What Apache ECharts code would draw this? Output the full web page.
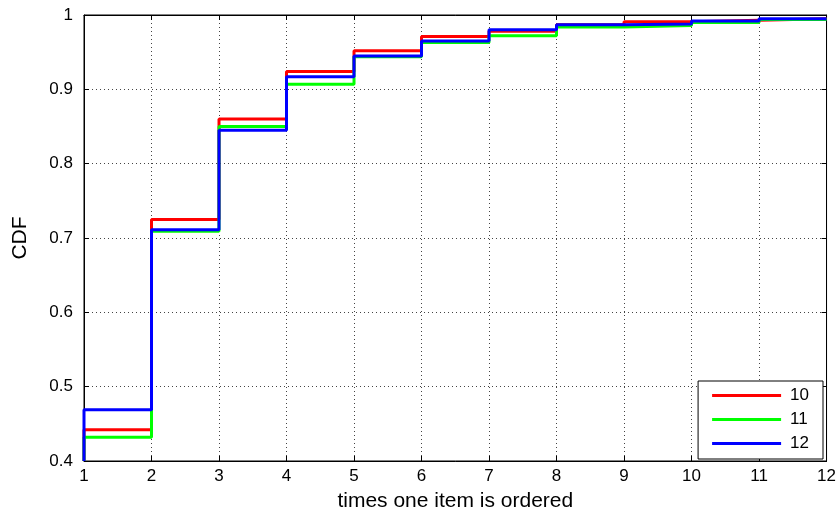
<!DOCTYPE html>
<html><head><meta charset="utf-8">
<script src="https://cdn.jsdelivr.net/npm/echarts@6/dist/echarts.min.js"></script>
<style>html,body{margin:0;padding:0;background:#fff}#c{width:839px;height:517px}</style>
</head><body><div id="c"></div>
<script>
const xValues = [1, 2, 3, 4, 5, 6, 7, 8, 9, 10, 11, 12];
const seriesNames = ['10', '11', '12'];
const cdf10 = [0.442, 0.725, 0.860, 0.924, 0.952, 0.971, 0.978, 0.987, 0.991, 0.993, 0.995];
const cdf11 = [0.432, 0.709, 0.850, 0.907, 0.944, 0.963, 0.972, 0.984, 0.986, 0.990, 0.994];
const cdf12 = [0.469, 0.711, 0.845, 0.917, 0.945, 0.965, 0.980, 0.987, 0.988, 0.992, 0.995];
const colors = ['#ff0000', '#00ff00', '#0000ff'];
const yMin = 0.4;

function stepData(vals) {
  const d = [[xValues[0], yMin]];
  vals.forEach((v, i) => d.push([xValues[i], v]));
  d.push([xValues[xValues.length - 1], vals[vals.length - 1]]);
  return d;
}

const chart = echarts.init(document.getElementById('c'));
const font = 'Liberation Sans, Arial, sans-serif';
const gridLine = {show: true, lineStyle: {color: '#444', type: [1, 3], width: 1}};
chart.setOption({
  animation: false,
  grid: {left: 84, right: 7, top: 15, bottom: 50, show: true, borderColor: '#000', borderWidth: 1},
  xAxis: [{
    type: 'value', min: 1, max: 12, interval: 1, position: 'bottom',
    name: 'times one item is ordered', nameLocation: 'middle', nameGap: 30,
    nameTextStyle: {fontFamily: font, fontSize: 21, color: '#000'},
    axisLine: {lineStyle: {color: '#000', width: 1}},
    axisTick: {inside: true, length: 5, lineStyle: {color: '#000'}},
    axisLabel: {fontFamily: font, fontSize: 17, color: '#000', margin: 7},
    splitLine: gridLine
  }, {
    type: 'value', min: 1, max: 12, interval: 1, position: 'top',
    axisLine: {lineStyle: {color: '#000'}},
    axisTick: {inside: true, length: 5, lineStyle: {color: '#000'}},
    axisLabel: {show: false}, splitLine: {show: false}
  }],
  yAxis: [{
    type: 'value', min: 0.4, max: 1, interval: 0.1, position: 'left',
    name: 'CDF', nameLocation: 'middle', nameGap: 53,
    nameTextStyle: {fontFamily: font, fontSize: 21, color: '#000'},
    axisLine: {show: true, lineStyle: {color: '#000', width: 1}},
    axisTick: {show: true, inside: true, length: 5, lineStyle: {color: '#000'}},
    axisLabel: {fontFamily: font, fontSize: 17, color: '#000', margin: 11,
      formatter: v => (Math.round(v * 10) / 10).toString()},
    splitLine: gridLine
  }, {
    type: 'value', min: 0.4, max: 1, interval: 0.1, position: 'right',
    axisLine: {show: true, lineStyle: {color: '#000'}},
    axisTick: {show: true, inside: true, length: 5, lineStyle: {color: '#000'}},
    axisLabel: {show: false}, splitLine: {show: false}
  }],
  legend: {
    right: 16, bottom: 58, orient: 'vertical', backgroundColor: '#fff',
    borderColor: '#000', borderWidth: 1, padding: [6, 14, 7, 14],
    itemWidth: 69, itemHeight: 3, itemGap: 7, icon: 'rect',
    textStyle: {fontFamily: font, fontSize: 17, color: '#000', padding: [0, 0, 0, 4]},
    data: seriesNames
  },
  series: [cdf10, cdf11, cdf12].map((vals, i) => ({
    name: seriesNames[i], type: 'line', step: 'end', data: stepData(vals),
    showSymbol: false, symbol: 'none', color: colors[i],
    lineStyle: {color: colors[i], width: 3}, z: 3 + i
  }))
});
</script></body></html>
